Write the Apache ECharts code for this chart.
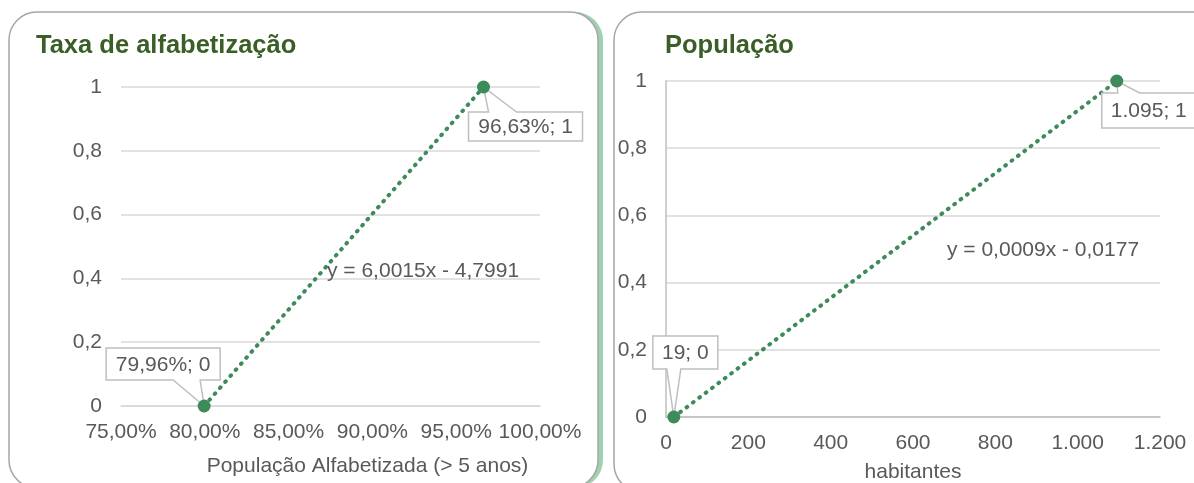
<!DOCTYPE html>
<html>
<head>
<meta charset="utf-8">
<script src="https://cdn.jsdelivr.net/npm/echarts@6/dist/echarts.min.js"></script>
<style>
  html, body { margin: 0; padding: 0; background: #ffffff; }
  #chart { width: 1194px; height: 483px; }
</style>
</head>
<body>
<div id="chart"></div>
<script>
// Literacy rate panel: share of literate population (%) vs. normalized score
const literacyX = [79.96, 96.63];
const literacyY = [0, 1];
const literacyEquation = 'y = 6,0015x - 4,7991';

// Population panel: inhabitants vs. normalized score
const populationX = [19, 1095];
const populationY = [0, 1];
const populationEquation = 'y = 0,0009x - 0,0177';

const titles = ['Taxa de alfabetização', 'População'];
const xAxisNames = ['População Alfabetizada (> 5 anos)', 'habitantes'];

const FONT = 'Liberation Sans, Arial, sans-serif';
const FS = 21;
const TEXT = '#595959';
const GREEN = '#3d8a5b';
const TITLE_GREEN = '#3a5e25';

const fmtY = v => String(v).replace('.', ',');
const fmtPct = v => v.toFixed(2).replace('.', ',') + '%';
const fmtThousands = v => String(Math.round(v)).replace(/\B(?=(\d{3})+(?!\d))/g, '.');

// callout boxes, relative to their point: box offset/size and pointer base
const calloutLayout = [
  [ // literacy
    { dx: -98, dy: -58, w: 114, h: 32, side: 'bottom', b1: -31, b2: -4 },
    { dx: -15, dy: 25, w: 114, h: 29, side: 'top', b1: 5, b2: 33 }
  ],
  [ // population
    { dx: -21, dy: -81, w: 65, h: 33, side: 'bottom', b1: -7, b2: 7 },
    { dx: -15, dy: 12, w: 94, h: 35, side: 'top', b1: 1, b2: 23 }
  ]
];

function calloutSeries(gridIdx, xs, ys, fmtX) {
  const data = xs.map((x, i) => [x, ys[i], fmtX(x) + '; ' + fmtY(ys[i])]);
  return {
    type: 'custom',
    xAxisIndex: gridIdx,
    yAxisIndex: gridIdx,
    clip: false,
    z: 5,
    silent: true,
    data: data,
    renderItem: function (params, api) {
      const p = api.coord([api.value(0), api.value(1)]);
      const c = calloutLayout[gridIdx][params.dataIndex];
      const bx = p[0] + c.dx, by = p[1] + c.dy;
      let pts;
      if (c.side === 'top') {
        pts = [[bx, by], [p[0] + c.b1, by], [p[0], p[1]], [p[0] + c.b2, by],
               [bx + c.w, by], [bx + c.w, by + c.h], [bx, by + c.h]];
      } else {
        const yb = by + c.h;
        pts = [[bx, by], [bx + c.w, by], [bx + c.w, yb], [p[0] + c.b2, yb],
               [p[0], p[1]], [p[0] + c.b1, yb], [bx, yb]];
      }
      return {
        type: 'group',
        children: [
          { type: 'polygon', shape: { points: pts },
            style: { fill: '#ffffff', stroke: '#bfbfbf', lineWidth: 1.5 } },
          { type: 'text',
            style: { text: data[params.dataIndex][2], x: bx + c.w / 2, y: by + c.h / 2 + 1,
                     align: 'center', verticalAlign: 'middle',
                     font: FS + 'px ' + FONT, fill: TEXT } }
        ]
      };
    }
  };
}

function trendSeries(gridIdx, xs, ys) {
  return {
    type: 'line',
    xAxisIndex: gridIdx,
    yAxisIndex: gridIdx,
    data: xs.map((x, i) => [x, ys[i]]),
    symbol: 'none',
    z: 3,
    silent: true,
    lineStyle: { color: GREEN, width: 4, type: [0.8, 7.2], cap: 'round' }
  };
}

function pointSeries(gridIdx, xs, ys) {
  return {
    type: 'scatter',
    xAxisIndex: gridIdx,
    yAxisIndex: gridIdx,
    data: xs.map((x, i) => [x, ys[i]]),
    symbolSize: 13,
    z: 10,
    silent: true,
    itemStyle: { color: GREEN, opacity: 1 }
  };
}

const axisLabel = { color: TEXT, fontSize: FS, fontFamily: FONT };

// rounded card with a flat green edge on its right side
function panel(x, y, w, h) {
  return [
    { type: 'rect', z: -11, silent: true,
      shape: { x: x + 5, y: y, width: w, height: h, r: 28 },
      style: { fill: '#9fd0b0' } },
    { type: 'rect', z: -10, silent: true,
      shape: { x: x, y: y, width: w, height: h, r: 28 },
      style: { fill: '#ffffff', stroke: '#a6a6a6', lineWidth: 1.5 } }
  ];
}

const chart = echarts.init(document.getElementById('chart'), null, { renderer: 'canvas' });

chart.setOption({
  backgroundColor: '#ffffff',
  animation: false,
  title: [
    { text: titles[0], left: 36, top: 33, padding: 0,
      textStyle: { color: TITLE_GREEN, fontSize: 25.5, fontWeight: 'bold', fontFamily: FONT } },
    { text: titles[1], left: 665, top: 33, padding: 0,
      textStyle: { color: TITLE_GREEN, fontSize: 25.5, fontWeight: 'bold', fontFamily: FONT } }
  ],
  grid: [
    { left: 121, top: 87, width: 419, height: 319, outerBoundsMode: 'none', containLabel: false },
    { left: 666, top: 81, width: 494, height: 336, outerBoundsMode: 'none', containLabel: false }
  ],
  xAxis: [
    { type: 'value', gridIndex: 0, min: 75, max: 100, interval: 5,
      name: xAxisNames[0], nameLocation: 'middle', nameGap: 50,
      nameTextStyle: { color: TEXT, fontSize: FS, fontFamily: FONT, padding: [0, 0, 0, 74] },
      axisLine: { show: true, lineStyle: { color: '#d9d9d9', width: 1.5 } },
      axisTick: { show: false }, splitLine: { show: false },
      axisLabel: Object.assign({ margin: 16, formatter: fmtPct }, axisLabel) },
    { type: 'value', gridIndex: 1, min: 0, max: 1200, interval: 200,
      name: xAxisNames[1], nameLocation: 'middle', nameGap: 45,
      nameTextStyle: { color: TEXT, fontSize: FS, fontFamily: FONT },
      axisLine: { show: true, lineStyle: { color: '#bfbfbf', width: 1.5 } },
      axisTick: { show: false }, splitLine: { show: false },
      axisLabel: Object.assign({ margin: 16, formatter: fmtThousands }, axisLabel) }
  ],
  yAxis: [
    { type: 'value', gridIndex: 0, min: 0, max: 1, interval: 0.2,
      axisLine: { show: false }, axisTick: { show: false },
      splitLine: { show: true, lineStyle: { color: '#d9d9d9', width: 1.5 } },
      axisLabel: Object.assign({ margin: 19, formatter: fmtY }, axisLabel) },
    { type: 'value', gridIndex: 1, min: 0, max: 1, interval: 0.2,
      axisLine: { show: true, lineStyle: { color: '#bfbfbf', width: 1.5 } }, axisTick: { show: false },
      splitLine: { show: true, lineStyle: { color: '#d9d9d9', width: 1.5 } },
      axisLabel: Object.assign({ margin: 19, formatter: fmtY }, axisLabel) }
  ],
  graphic: panel(9, 12, 589, 476).concat(panel(614, 12, 620, 480)).concat([
    { type: 'text', z: 20, silent: true, left: 327, top: 261,
      style: { text: literacyEquation, font: FS + 'px ' + FONT, fill: TEXT } },
    { type: 'text', z: 20, silent: true, left: 947, top: 240,
      style: { text: populationEquation, font: FS + 'px ' + FONT, fill: TEXT } }
  ]),
  series: [
    trendSeries(0, literacyX, literacyY),
    pointSeries(0, literacyX, literacyY),
    calloutSeries(0, literacyX, literacyY, fmtPct),
    trendSeries(1, populationX, populationY),
    pointSeries(1, populationX, populationY),
    calloutSeries(1, populationX, populationY, fmtThousands)
  ]
});
</script>
</body>
</html>
